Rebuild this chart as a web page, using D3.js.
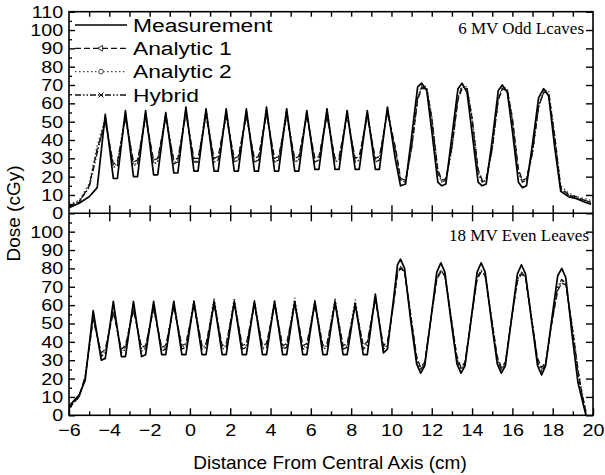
<!DOCTYPE html>
<html>
<head>
<meta charset="utf-8">
<script src="https://cdn.jsdelivr.net/npm/d3@7"></script>
<style>
  body { margin: 0; background: #fff; }
  text { font-family: "Liberation Sans", Arial, sans-serif; fill: #000; }
</style>
</head>
<body>
<div id="chart"></div>
<script>
// ---- data: x positions (cm) of the read vertices, per panel ----
var topX = [-6, -5.5, -5.0, -4.6,
  -4.2, -3.8, -3.6, -3.2, -2.8, -2.6, -2.2, -1.8, -1.6, -1.2, -0.8, -0.6,
  -0.2, 0.2, 0.4, 0.8, 1.2, 1.4, 1.8, 2.2, 2.4, 2.8, 3.2, 3.4,
  3.8, 4.2, 4.4, 4.8, 5.2, 5.4, 5.8, 6.2, 6.4, 6.8, 7.2, 7.4,
  7.8, 8.2, 8.4, 8.8, 9.2, 9.4, 9.8,
  10.2, 10.45, 10.7, 11.0, 11.3, 11.5, 11.75, 12.0, 12.3, 12.5, 12.7, 13.0,
  13.3, 13.5, 13.75, 14.0, 14.3, 14.5, 14.7, 15.0, 15.3, 15.5, 15.75, 16.0,
  16.3, 16.5, 16.7, 17.0, 17.3, 17.55, 17.8, 18.1, 18.4, 18.8, 19.2, 19.6, 19.9];

var botX = [-6, -5.5, -5.2,
  -4.8, -4.4, -4.2, -3.8, -3.4, -3.2, -2.8, -2.4, -2.2, -1.8, -1.4, -1.2,
  -0.8, -0.4, -0.2, 0.2, 0.6, 0.8, 1.2, 1.6, 1.8, 2.2, 2.6, 2.8,
  3.2, 3.6, 3.8, 4.2, 4.6, 4.8, 5.2, 5.6, 5.8, 6.2, 6.6, 6.8,
  7.2, 7.6, 7.8, 8.2, 8.6, 8.8, 9.2, 9.6, 9.8,
  10.1, 10.3, 10.45, 10.65, 10.95, 11.25, 11.45, 11.65, 11.95, 12.25, 12.45, 12.65,
  12.95, 13.25, 13.45, 13.65, 13.95, 14.25, 14.45, 14.65, 14.95, 15.25, 15.45, 15.65,
  15.95, 16.25, 16.45, 16.65, 16.95, 17.25, 17.45, 17.65, 17.95, 18.25, 18.45, 18.65,
  18.95, 19.25, 19.45, 19.65];

// ---- 6 MV odd leaves (dose, cGy) ----
var topMeasurement = [3, 5.5, 9, 14,
  54, 19, 19, 56, 20, 20, 56, 21, 21, 55, 22, 22,
  58, 23, 23, 57, 23, 23, 57, 23, 23, 57, 23, 23,
  58, 23, 23, 57, 23, 23, 56, 24, 24, 57, 24, 24,
  56, 24, 24, 56, 24, 24, 58,
  29, 15, 16, 42, 69, 71, 67, 45, 17, 15, 16, 42,
  68, 71, 66, 44, 17, 15, 16, 40, 67, 70, 66, 45,
  17, 14, 15, 38, 63, 68, 64, 36, 12, 9, 8, 6, 5];
var topAnalytic1 = [4, 6, 15, 35,
  50, 27, 28, 52, 28, 29, 52, 29, 30, 52, 29, 30,
  54, 30, 30, 53, 30, 31, 53, 30, 31, 53, 30, 31,
  54, 30, 31, 53, 30, 31, 53, 30, 31, 53, 30, 31,
  53, 30, 31, 53, 30, 31, 55,
  36, 19, 18, 36, 62, 68, 68, 52, 24, 18, 19, 36,
  62, 68, 68, 52, 24, 18, 19, 36, 62, 68, 67, 52,
  24, 18, 19, 34, 58, 66, 66, 42, 14, 10, 9, 7, 6];
var topAnalytic2 = [5, 7, 16, 37,
  52, 26, 27, 55, 27, 27, 55, 27, 28, 55, 28, 28,
  57, 28, 29, 57, 28, 29, 56, 28, 29, 56, 28, 29,
  57, 28, 29, 57, 28, 29, 56, 28, 29, 57, 28, 29,
  56, 28, 29, 56, 28, 29, 57,
  34, 18, 17, 35, 63, 70, 69, 53, 23, 17, 18, 35,
  63, 70, 69, 53, 23, 17, 18, 35, 63, 69, 68, 52,
  23, 17, 18, 33, 59, 67, 67, 43, 15, 11, 9, 8, 7];
var topHybrid = [4, 6.5, 14, 33,
  51, 25, 26, 53, 26, 27, 53, 27, 28, 53, 27, 28,
  55, 28, 28, 54, 28, 29, 54, 28, 29, 54, 28, 29,
  55, 28, 29, 54, 28, 29, 54, 28, 29, 54, 28, 29,
  54, 28, 29, 54, 28, 29, 56,
  34, 18, 17, 36, 63, 69, 68, 51, 22, 17, 18, 36,
  63, 69, 68, 51, 22, 17, 18, 35, 62, 68, 67, 50,
  22, 17, 18, 33, 58, 66, 65, 40, 13, 10, 8, 7, 6];

// ---- 18 MV even leaves (dose, cGy) ----
var botMeasurement = [5, 11, 19,
  57, 30, 31, 62, 32, 32, 62, 32, 33, 62, 33, 33,
  62, 33, 33, 62, 33, 33, 62, 33, 33, 62, 33, 33,
  62, 33, 33, 62, 33, 33, 62, 33, 33, 62, 33, 33,
  62, 33, 33, 61, 33, 33, 66, 34, 36,
  63, 82, 85, 80, 52, 28, 23, 27, 52, 78, 83, 78,
  52, 28, 23, 27, 52, 78, 83, 78, 52, 28, 23, 27,
  52, 77, 82, 77, 52, 27, 22, 27, 52, 76, 80, 75,
  45, 18, 9, 0];
var botAnalytic1 = [4, 10, 21,
  52, 34, 36, 56, 36, 38, 57, 37, 38, 58, 37, 38,
  59, 38, 39, 60, 38, 39, 61, 38, 39, 61, 38, 39,
  60, 38, 39, 60, 38, 39, 61, 38, 39, 60, 38, 39,
  61, 38, 39, 60, 38, 40, 63, 38, 40,
  60, 77, 80, 78, 55, 32, 26, 29, 52, 74, 78, 76,
  54, 32, 26, 29, 52, 74, 78, 76, 54, 32, 26, 29,
  52, 73, 77, 75, 53, 31, 26, 29, 50, 68, 72, 71,
  50, 25, 12, 2];
var botAnalytic2 = [4, 10, 21,
  53, 33, 35, 58, 35, 37, 60, 36, 37, 61, 36, 37,
  62, 37, 38, 63, 37, 38, 64, 37, 38, 64, 37, 38,
  63, 37, 38, 63, 37, 38, 64, 37, 38, 63, 37, 38,
  64, 37, 38, 63, 37, 39, 65, 37, 39,
  61, 78, 81, 79, 56, 31, 25, 28, 52, 75, 79, 77,
  55, 31, 25, 28, 52, 75, 79, 77, 55, 31, 25, 28,
  52, 74, 78, 76, 54, 30, 25, 28, 50, 69, 73, 72,
  51, 26, 13, 2];
var botHybrid = [4, 10, 20,
  54, 32, 34, 58, 34, 36, 59, 35, 36, 59, 35, 36,
  60, 36, 37, 60, 36, 37, 61, 36, 37, 61, 36, 37,
  61, 36, 37, 61, 36, 37, 61, 36, 37, 61, 36, 37,
  61, 36, 37, 60, 36, 38, 64, 36, 38,
  61, 78, 81, 78, 54, 30, 25, 28, 52, 75, 79, 76,
  53, 30, 25, 28, 52, 75, 79, 76, 53, 30, 25, 28,
  52, 74, 78, 75, 52, 29, 24, 28, 50, 70, 74, 72,
  48, 23, 11, 1];

var seriesNames = ["Measurement", "Analytic 1", "Analytic 2", "Hybrid"];
var xTicks = [-6, -4, -2, 0, 2, 4, 6, 8, 10, 12, 14, 16, 18, 20];
var topYTicks = [0, 10, 20, 30, 40, 50, 60, 70, 80, 90, 100, 110];
var botYTicks = [0, 10, 20, 30, 40, 50, 60, 70, 80, 90, 100];
var panelLabels = ["6 MV Odd Lcaves", "18 MV Even Leaves"];

// ---- layout ----
var width = 605, height = 475;
var plotLeft = 69, plotRight = 593, plotTop = 11.7, plotMid = 213.3, plotBottom = 415.3;
var stretch = 1.16; // the original tick and legend lettering is a little wide

var styles = [
  { dash: null, width: 1.7, color: "#000", marker: null },
  { dash: "6,3", width: 1.3, color: "#111", marker: "tri" },
  { dash: "1.5,2.5", width: 1.3, color: "#444", marker: "circle" },
  { dash: "6,2,1.5,2,1.5,2", width: 1.3, color: "#111", marker: "cross" }
];

var svg = d3.select("#chart").append("svg")
  .attr("width", width)
  .attr("height", height);

var x = d3.scaleLinear().domain([-6, 20]).range([plotLeft, plotRight]);
var yTop = d3.scaleLinear().domain([0, 110]).range([plotMid, plotTop]);
var yBot = d3.scaleLinear().domain([0, 110]).range([plotBottom, plotMid]);

svg.append("clipPath").attr("id", "clipTop").append("rect")
  .attr("x", plotLeft).attr("y", plotTop).attr("width", plotRight - plotLeft).attr("height", plotMid - plotTop);
svg.append("clipPath").attr("id", "clipBot").append("rect")
  .attr("x", plotLeft).attr("y", plotMid).attr("width", plotRight - plotLeft).attr("height", plotBottom - plotMid);

function drawPanel(xs, seriesList, y, clipId) {
  var g = svg.append("g").attr("clip-path", "url(#" + clipId + ")");
  // draw the measurement last so it sits on top
  [3, 2, 1, 0].forEach(function (i) {
    var pts = xs.map(function (v, j) { return [v, seriesList[i][j]]; });
    var line = d3.line()
      .x(function (d) { return x(d[0]); })
      .y(function (d) { return y(d[1]); });
    g.append("path")
      .attr("d", line(pts))
      .attr("fill", "none")
      .attr("stroke", styles[i].color)
      .attr("stroke-width", styles[i].width)
      .attr("stroke-dasharray", styles[i].dash)
      .attr("stroke-linejoin", "round");
  });
}

drawPanel(topX, [topMeasurement, topAnalytic1, topAnalytic2, topHybrid], yTop, "clipTop");
drawPanel(botX, [botMeasurement, botAnalytic1, botAnalytic2, botHybrid], yBot, "clipBot");

// ---- axes ----
function noLabel() { return ""; }

// left axes (ticks inward)
svg.append("g").attr("class", "lab").attr("transform", "translate(" + plotLeft + ",0)")
  .call(d3.axisLeft(yTop).tickValues(topYTicks).tickSizeInner(-6).tickSizeOuter(0).tickPadding(5));
svg.append("g").attr("transform", "translate(" + plotLeft + ",0)")
  .call(d3.axisLeft(yTop).tickValues(d3.range(5, 110, 10)).tickSizeInner(-3).tickSizeOuter(0).tickFormat(noLabel));
svg.append("g").attr("class", "lab").attr("transform", "translate(" + plotLeft + ",0)")
  .call(d3.axisLeft(yBot).tickValues(botYTicks).tickSizeInner(-6).tickSizeOuter(0).tickPadding(5));
svg.append("g").attr("transform", "translate(" + plotLeft + ",0)")
  .call(d3.axisLeft(yBot).tickValues(d3.range(5, 110, 10)).tickSizeInner(-3).tickSizeOuter(0).tickFormat(noLabel));

// right axes
svg.append("g").attr("transform", "translate(" + plotRight + ",0)")
  .call(d3.axisRight(yTop).tickValues(topYTicks).tickSizeInner(-7).tickSizeOuter(0).tickFormat(noLabel));
svg.append("g").attr("transform", "translate(" + plotRight + ",0)")
  .call(d3.axisRight(yBot).tickValues(botYTicks).tickSizeInner(-7).tickSizeOuter(0).tickFormat(noLabel));

// top axis
svg.append("g").attr("transform", "translate(0," + plotTop + ")")
  .call(d3.axisTop(x).tickValues(d3.range(-5, 20, 1)).tickSizeInner(-5).tickSizeOuter(0).tickFormat(noLabel));

// shared middle axis, ticks crossing both ways
[-8, 8].forEach(function (s) {
  svg.append("g").attr("transform", "translate(0," + plotMid + ")")
    .call(d3.axisBottom(x).tickValues(xTicks.slice(1, -1)).tickSizeInner(s).tickSizeOuter(0).tickFormat(noLabel));
});
[-4, 4].forEach(function (s) {
  svg.append("g").attr("transform", "translate(0," + plotMid + ")")
    .call(d3.axisBottom(x).tickValues(d3.range(-5, 20, 2)).tickSizeInner(s).tickSizeOuter(0).tickFormat(noLabel));
});

// bottom axis
svg.append("g").attr("class", "lab").attr("transform", "translate(0," + plotBottom + ")")
  .call(d3.axisBottom(x).tickValues(xTicks).tickSizeInner(-7).tickSizeOuter(0).tickPadding(9));
svg.append("g").attr("transform", "translate(0," + plotBottom + ")")
  .call(d3.axisBottom(x).tickValues(d3.range(-5, 20, 2)).tickSizeInner(-4).tickSizeOuter(0).tickFormat(noLabel));

svg.selectAll(".domain").remove();
svg.selectAll(".tick line").attr("stroke", "#000").attr("stroke-width", 1.4);
svg.selectAll(".lab .tick text")
  .style("font-size", "17px")
  .attr("fill", "#000")
  .attr("transform", "scale(" + stretch + ",1)");

// frame
svg.append("rect")
  .attr("x", plotLeft).attr("y", plotTop)
  .attr("width", plotRight - plotLeft).attr("height", plotBottom - plotTop)
  .attr("fill", "none").attr("stroke", "#000").attr("stroke-width", 1.6);
svg.append("line")
  .attr("x1", plotLeft).attr("x2", plotRight)
  .attr("y1", plotMid).attr("y2", plotMid)
  .attr("stroke", "#000").attr("stroke-width", 1.6);

// panel labels
svg.append("text").attr("x", 584).attr("y", 34)
  .attr("text-anchor", "end")
  .style("font-family", "'Liberation Serif', 'Times New Roman', serif")
  .style("font-size", "17px")
  .text(panelLabels[0]);
svg.append("text").attr("x", 589).attr("y", 241)
  .attr("text-anchor", "end")
  .style("font-family", "'Liberation Serif', 'Times New Roman', serif")
  .style("font-size", "17px")
  .text(panelLabels[1]);

// legend
var legendY = [25, 48.3, 71.6, 95];
var legend = svg.append("g");
seriesNames.forEach(function (name, i) {
  var st = styles[i];
  legend.append("line")
    .attr("x1", 75).attr("x2", 127)
    .attr("y1", legendY[i]).attr("y2", legendY[i])
    .attr("stroke", st.color).attr("stroke-width", st.width)
    .attr("stroke-dasharray", st.dash);
  if (st.marker === "tri") {
    legend.append("path")
      .attr("d", d3.symbol(d3.symbolTriangle, 14)())
      .attr("transform", "translate(101," + legendY[i] + ") rotate(-90)")
      .attr("fill", "#fff").attr("stroke", "#000").attr("stroke-width", 0.8);
  } else if (st.marker === "circle") {
    legend.append("circle")
      .attr("cx", 101).attr("cy", legendY[i]).attr("r", 2.3)
      .attr("fill", "#fff").attr("stroke", "#333").attr("stroke-width", 0.9);
  } else if (st.marker === "cross") {
    legend.append("path")
      .attr("d", d3.symbol(d3.symbolTimes, 18)())
      .attr("transform", "translate(101," + legendY[i] + ")")
      .attr("fill", "none").attr("stroke", "#000").attr("stroke-width", 1);
  }
  legend.append("text")
    .attr("transform", "translate(133," + legendY[i] + ") scale(" + (stretch + 0.04) + ",1)")
    .attr("dy", "0.36em")
    .style("font-size", "19px")
    .text(name);
});

// axis titles
svg.append("text")
  .attr("transform", "translate(20," + ((plotTop + plotBottom) / 2) + ") rotate(-90)")
  .attr("text-anchor", "middle")
  .style("font-size", "19px")
  .text("Dose (cGy)");
svg.append("text")
  .attr("x", 330)
  .attr("y", 469)
  .attr("text-anchor", "middle")
  .style("font-size", "19px")
  .text("Distance From Central Axis (cm)");
</script>
</body>
</html>
